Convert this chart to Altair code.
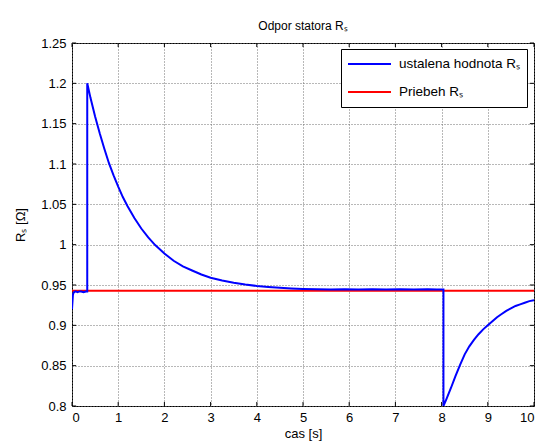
import altair as alt
import pandas as pd

# Stator resistance estimate (blue) and the true resistance course (red)
t_est = [0.0, 0.02, 0.04, 0.08, 0.12, 0.16, 0.20, 0.25, 0.30, 0.33,
         0.33, 0.40, 0.50, 0.60, 0.70, 0.80, 0.90, 1.00, 1.10, 1.20,
         1.35, 1.50, 1.65, 1.80, 2.00, 2.20, 2.40, 2.60, 2.80, 3.00,
         3.25, 3.50, 3.75, 4.00, 4.25, 4.50, 4.75, 5.00, 5.30, 5.60,
         5.90, 6.20, 6.50, 6.80, 7.10, 7.40, 7.70, 7.90, 8.04,
         8.04, 8.10, 8.20, 8.30, 8.40, 8.50, 8.60, 8.70, 8.80, 8.90,
         9.00, 9.10, 9.20, 9.30, 9.40, 9.50, 9.60, 9.70, 9.80, 9.90, 10.0]
r_est = [0.920, 0.938, 0.941, 0.942, 0.941, 0.942, 0.942, 0.941, 0.942, 0.942,
         1.200, 1.182, 1.159, 1.138, 1.119, 1.101, 1.086, 1.072, 1.059, 1.048,
         1.033, 1.020, 1.009, 0.9995, 0.989, 0.980, 0.973, 0.968, 0.963, 0.959,
         0.9556, 0.9528, 0.9506, 0.9488, 0.9475, 0.9465, 0.9457, 0.9451, 0.9447, 0.9444,
         0.9446, 0.9443, 0.9446, 0.9443, 0.9446, 0.9444, 0.9446, 0.9444, 0.9445,
         0.800, 0.808, 0.822, 0.837, 0.851, 0.864, 0.874, 0.882, 0.889, 0.895,
         0.900, 0.905, 0.910, 0.914, 0.918, 0.921, 0.924, 0.926, 0.928, 0.930, 0.931]

t_true = [0.0, 10.0]
r_true = [0.943, 0.943]

x_ticks = [0, 1, 2, 3, 4, 5, 6, 7, 8, 9, 10]
y_ticks = [0.8, 0.85, 0.9, 0.95, 1.0, 1.05, 1.1, 1.15, 1.2, 1.25]

name_est = "ustalena hodnota Rₛ"
name_true = "Priebeh Rₛ"

est = pd.DataFrame({"t": t_est, "r": r_est, "serie": name_est,
                    "i": range(len(t_est))})
true = pd.DataFrame({"t": t_true, "r": r_true, "serie": name_true,
                     "i": range(len(t_true))})

X0, X1 = x_ticks[0], x_ticks[-1]
Y0, Y1 = y_ticks[0], y_ticks[-1]
xs = alt.Scale(domain=[X0, X1], nice=False, zero=False)
ys = alt.Scale(domain=[Y0, Y1], nice=False, zero=False)
col = alt.Scale(domain=[name_est, name_true], range=["#0000ff", "#ff0000"])

FONT = "Arial"
grid_kw = dict(grid=True, gridDash=[1, 2], gridColor="#707070", gridOpacity=1,
               tickSize=0, domain=False, labelFont=FONT, labelFontSize=13,
               labelColor="#000000", titleFont=FONT, titleFontSize=13,
               titleFontWeight="normal", titleColor="#000000")

x_axis = alt.Axis(title="cas [s]", values=x_ticks, format="d", labelPadding=5,
                  titlePadding=3, **grid_kw)
y_axis = alt.Axis(title="Rₛ [Ω]", values=y_ticks, format=".2~f", labelPadding=6,
                  titlePadding=13, **grid_kw)

legend = alt.Legend(title=None, orient="none", legendX=269, legendY=6,
                    fillColor="#ffffff", strokeColor="#000000", padding=6,
                    symbolType="stroke", symbolSize=1849, symbolStrokeWidth=2,
                    clipHeight=18, rowPadding=10, labelOffset=7,
                    labelFont=FONT, labelFontSize=13.5, labelColor="#000000")

true_line = alt.Chart(true).mark_line(strokeWidth=2, clip=True).encode(
    x=alt.X("t:Q", scale=xs, axis=x_axis),
    y=alt.Y("r:Q", scale=ys, axis=y_axis),
    color=alt.Color("serie:N", scale=col, legend=legend),
    order="i:Q",
)
est_line = alt.Chart(est).mark_line(strokeWidth=2, clip=True).encode(
    x=alt.X("t:Q", scale=xs),
    y=alt.Y("r:Q", scale=ys),
    color=alt.Color("serie:N", scale=col, legend=legend),
    order="i:Q",
)

# inward tick marks on all four sides of the frame
tx = 0.09 * (X1 - X0) / 10
ty = 0.005 * (Y1 - Y0) / 0.45
xt = pd.DataFrame({"t": x_ticks * 2,
                   "r": [Y0] * len(x_ticks) + [Y1] * len(x_ticks),
                   "r2": [Y0 + ty] * len(x_ticks) + [Y1 - ty] * len(x_ticks)})
yt = pd.DataFrame({"r": y_ticks * 2,
                   "t": [X0] * len(y_ticks) + [X1] * len(y_ticks),
                   "t2": [X0 + tx] * len(y_ticks) + [X1 - tx] * len(y_ticks)})
x_tick_marks = alt.Chart(xt).mark_rule(color="#000000", strokeWidth=1).encode(
    x=alt.X("t:Q", scale=xs),
    y=alt.Y("r:Q", scale=ys),
    y2="r2:Q",
)
y_tick_marks = alt.Chart(yt).mark_rule(color="#000000", strokeWidth=1).encode(
    y=alt.Y("r:Q", scale=ys),
    x=alt.X("t:Q", scale=xs),
    x2="t2:Q",
)

chart = alt.layer(true_line, est_line, x_tick_marks, y_tick_marks).properties(
    width=462, height=363,
    title=alt.TitleParams("Odpor statora Rₛ", font=FONT, fontSize=12,
                          fontWeight="normal", color="#000000", offset=4),
    autosize=alt.AutoSizeParams(type="none"),
    padding={"left": 72, "top": 43, "right": 7, "bottom": 37},
    background="#ffffff",
).configure_view(stroke="#000000", strokeWidth=1)

chart.save("out.html", embed_options={"renderer": "svg", "actions": False})
